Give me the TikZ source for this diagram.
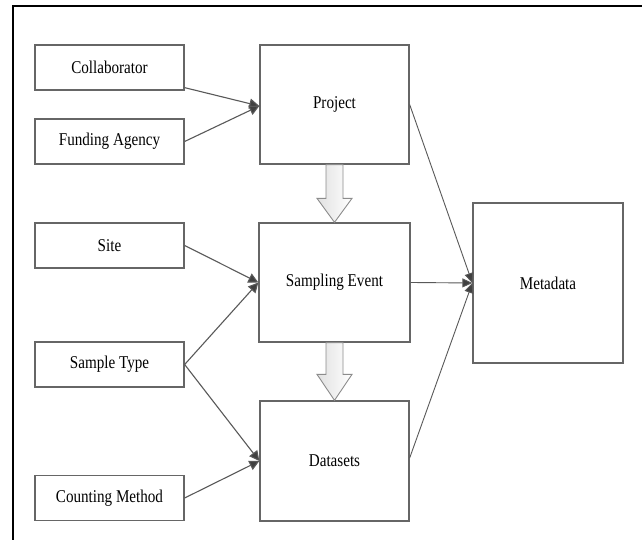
\documentclass[tikz,border=0pt]{standalone}
\usepackage{fontspec}
\setmainfont{Liberation Serif}[FakeStretch=0.84]
\usetikzlibrary{arrows.meta,calc}
\begin{document}
\begin{tikzpicture}[x=1pt,y=1pt,
  box/.style={draw=black!60, line width=1.3pt, fill=white, inner sep=0pt,
    font=\fontsize{18}{21}\selectfont, text=black},
  small/.style={box, minimum width=149pt, minimum height=45pt},
  big/.style={box, minimum width=149pt, minimum height=119pt},
  conn/.style={draw=black!65, line width=1.1pt,
    -{Triangle[length=10pt,width=10pt,fill=black!75]}},
  thin/.style={draw=black!65, line width=0.9pt,
    -{Triangle[length=10pt,width=9pt,fill=black!75]}},
  blockarr/.style={draw=black!45, line width=0.9pt, left color=black!12, right color=white}
]
\useasboundingbox (0,0) rectangle (642,540);
\fill[white] (0,0) rectangle (642,540);
% partial frame
\draw[line width=2pt, black] (13,0) -- (13,534) -- (642,534);

% nodes
\node[small] (coll)  at (109.5,472.5) {Collaborator};
\node[small] (fund)  at (109.5,398.5) {Funding Agency};
\node[small] (site)  at (109.5,294.5) {Site};
\node[small] (stype) at (109.5,175.5) {Sample Type};
\node[small] (count) at (109.5,42)    {Counting Method};
\node[big]   (proj)  at (334.5,435.5) {Project};
\node[big, minimum width=151pt] (samp)  at (334.5,257.5) {Sampling Event};
\node[big, minimum height=120pt] (data)  at (334.5,79) {Datasets};
\node[box, minimum width=150pt, minimum height=160pt] (meta) at (548,257) {Metadata};

% block arrows
\path[blockarr] ($(proj.south)+(-8.5,0)$) -- ($(samp.north)+(-8.5,24)$) -- ($(samp.north)+(-17.5,24)$)
  -- (samp.north) -- ($(samp.north)+(17.5,24)$) -- ($(samp.north)+(8.5,24)$) -- ($(proj.south)+(8.5,0)$) -- cycle;
\path[blockarr] ($(samp.south)+(-8.5,0)$) -- ($(data.north)+(-8.5,26)$) -- ($(data.north)+(-17.5,26)$)
  -- (data.north) -- ($(data.north)+(17.5,26)$) -- ($(data.north)+(8.5,26)$) -- ($(samp.south)+(8.5,0)$) -- cycle;

% connectors
\draw[conn] ([yshift=3pt]coll.south east) -- ([yshift=-1.5pt]proj.west);
\draw[conn] (fund.east) -- ([yshift=-1.5pt]proj.west);
\draw[conn] (site.east) -- (samp.west);
\draw[conn] (stype.east) -- (samp.west);
\draw[conn] (stype.east) -- (data.west);
\draw[conn] (count.east) -- (data.west);
\draw[thin] (proj.east) -- (meta.west);
\draw[thin] (samp.east) -- (meta.west);
\draw[thin] ([yshift=3pt]data.east) -- (meta.west);
\end{tikzpicture}
\end{document}
